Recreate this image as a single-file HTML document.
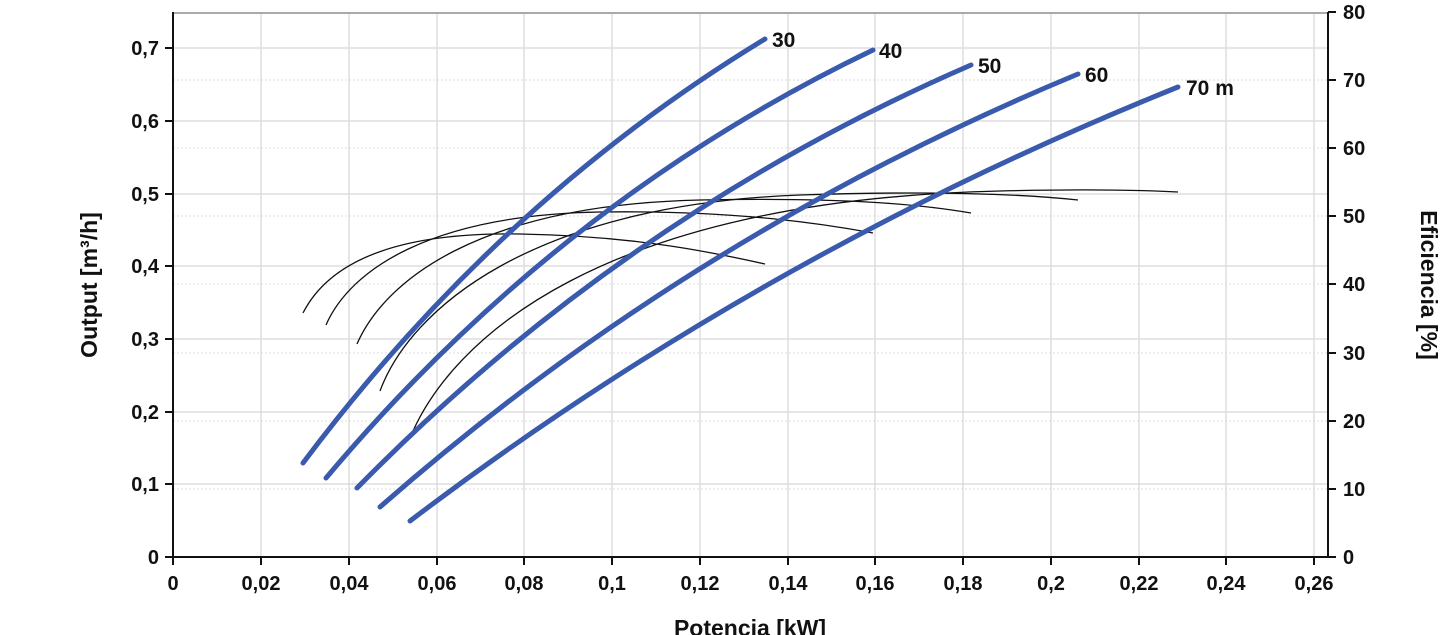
<!DOCTYPE html><html><head><style>body{margin:0;background:#fff}svg{display:block}text{font-family:"Liberation Sans",Arial,sans-serif;font-weight:bold;fill:#111}</style></head><body>
<svg width="1445" height="635" xmlns="http://www.w3.org/2000/svg">
<g stroke="#ddd" stroke-width="1.5">
<line x1="261" y1="13" x2="261" y2="557"/><line x1="349" y1="13" x2="349" y2="557"/><line x1="437" y1="13" x2="437" y2="557"/><line x1="524" y1="13" x2="524" y2="557"/><line x1="612" y1="13" x2="612" y2="557"/><line x1="700" y1="13" x2="700" y2="557"/><line x1="788" y1="13" x2="788" y2="557"/><line x1="875" y1="13" x2="875" y2="557"/><line x1="963" y1="13" x2="963" y2="557"/><line x1="1051" y1="13" x2="1051" y2="557"/><line x1="1139" y1="13" x2="1139" y2="557"/><line x1="1226" y1="13" x2="1226" y2="557"/><line x1="1314" y1="13" x2="1314" y2="557"/>
<line x1="173" y1="484" x2="1328" y2="484"/><line x1="173" y1="412" x2="1328" y2="412"/><line x1="173" y1="339" x2="1328" y2="339"/><line x1="173" y1="266" x2="1328" y2="266"/><line x1="173" y1="194" x2="1328" y2="194"/><line x1="173" y1="121" x2="1328" y2="121"/><line x1="173" y1="48" x2="1328" y2="48"/>
</g>
<g stroke="#ddd" stroke-width="1" stroke-dasharray="2,2">
<line x1="173" y1="489" x2="1328" y2="489"/><line x1="173" y1="421" x2="1328" y2="421"/><line x1="173" y1="353" x2="1328" y2="353"/><line x1="173" y1="284" x2="1328" y2="284"/><line x1="173" y1="216" x2="1328" y2="216"/><line x1="173" y1="148" x2="1328" y2="148"/><line x1="173" y1="80" x2="1328" y2="80"/>
</g>
<line x1="173" y1="13" x2="1328" y2="13" stroke="#aaa" stroke-width="2"/>
<g stroke="#111" stroke-width="2">
<line x1="173" y1="12" x2="173" y2="558"/><line x1="172" y1="557" x2="1329" y2="557"/><line x1="1328" y1="12" x2="1328" y2="558"/>
<line x1="165" y1="557" x2="173" y2="557"/><line x1="165" y1="484" x2="173" y2="484"/><line x1="165" y1="412" x2="173" y2="412"/><line x1="165" y1="339" x2="173" y2="339"/><line x1="165" y1="266" x2="173" y2="266"/><line x1="165" y1="194" x2="173" y2="194"/><line x1="165" y1="121" x2="173" y2="121"/><line x1="165" y1="48" x2="173" y2="48"/>
<line x1="1328" y1="557" x2="1336" y2="557"/><line x1="1328" y1="489" x2="1336" y2="489"/><line x1="1328" y1="421" x2="1336" y2="421"/><line x1="1328" y1="353" x2="1336" y2="353"/><line x1="1328" y1="284" x2="1336" y2="284"/><line x1="1328" y1="216" x2="1336" y2="216"/><line x1="1328" y1="148" x2="1336" y2="148"/><line x1="1328" y1="80" x2="1336" y2="80"/><line x1="1328" y1="12" x2="1336" y2="12"/>
<line x1="173" y1="557" x2="173" y2="565"/><line x1="261" y1="557" x2="261" y2="565"/><line x1="349" y1="557" x2="349" y2="565"/><line x1="437" y1="557" x2="437" y2="565"/><line x1="524" y1="557" x2="524" y2="565"/><line x1="612" y1="557" x2="612" y2="565"/><line x1="700" y1="557" x2="700" y2="565"/><line x1="788" y1="557" x2="788" y2="565"/><line x1="875" y1="557" x2="875" y2="565"/><line x1="963" y1="557" x2="963" y2="565"/><line x1="1051" y1="557" x2="1051" y2="565"/><line x1="1139" y1="557" x2="1139" y2="565"/><line x1="1226" y1="557" x2="1226" y2="565"/><line x1="1314" y1="557" x2="1314" y2="565"/>
</g>
<g font-size="20" text-anchor="end">
<text x="159" y="564">0</text><text x="159" y="491">0,1</text><text x="159" y="419">0,2</text><text x="159" y="346">0,3</text><text x="159" y="273">0,4</text><text x="159" y="201">0,5</text><text x="159" y="128">0,6</text><text x="159" y="55">0,7</text>
</g>
<g font-size="20" text-anchor="start">
<text x="1343" y="564">0</text><text x="1343" y="496">10</text><text x="1343" y="428">20</text><text x="1343" y="360">30</text><text x="1343" y="291">40</text><text x="1343" y="223">50</text><text x="1343" y="155">60</text><text x="1343" y="87">70</text><text x="1343" y="19">80</text>
</g>
<g font-size="20" text-anchor="middle">
<text x="173" y="590">0</text><text x="261" y="590">0,02</text><text x="349" y="590">0,04</text><text x="437" y="590">0,06</text><text x="524" y="590">0,08</text><text x="612" y="590">0,1</text><text x="700" y="590">0,12</text><text x="788" y="590">0,14</text><text x="875" y="590">0,16</text><text x="963" y="590">0,18</text><text x="1051" y="590">0,2</text><text x="1139" y="590">0,22</text><text x="1226" y="590">0,24</text><text x="1314" y="590">0,26</text>
</g>
<text x="750" y="636" font-size="23" text-anchor="middle">Potencia [kW]</text>
<text transform="translate(97,285) rotate(-90)" font-size="23" text-anchor="middle">Output [m³/h]</text>
<text transform="translate(1421,285) rotate(90)" font-size="23" text-anchor="middle">Eficiencia [%]</text>
<g fill="none" stroke="#111" stroke-width="1.3">
<path d="M303,313 C330,260 400,232 520,234 C640,236 720,254 765,264"/>
<path d="M326,325 C350,270 430,215 600,212 C740,210 830,225 873,233"/>
<path d="M357,344 C385,280 480,205 700,200 C860,197 930,206 971,213"/>
<path d="M380,391 C410,310 530,205 800,195 C950,190 1030,195 1078,200"/>
<path d="M410,438 C450,340 600,200 1000,191 C1080,189 1140,190 1178,192"/>
</g>
<g fill="none" stroke="#3a5aae" stroke-width="5" stroke-linecap="round">
<path d="M303,463 Q500,200 765,39"/>
<path d="M326,478 Q560,200 873,50"/>
<path d="M357,488 Q625,215 971,65"/>
<path d="M380,507 Q690,235 1078,74"/>
<path d="M410,521 Q760,255 1178,87"/>
</g>
<g font-size="21">
<text x="772" y="47">30</text><text x="879" y="58">40</text><text x="978" y="73">50</text><text x="1085" y="82">60</text><text x="1186" y="95">70 m</text>
</g>
</svg>
</body></html>
